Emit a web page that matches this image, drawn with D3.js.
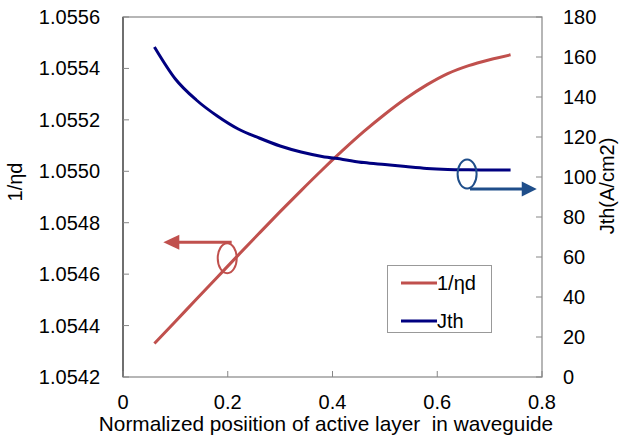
<!DOCTYPE html>
<html><head><meta charset="utf-8">
<script src="https://cdn.jsdelivr.net/npm/d3@7"></script>
<style>body{margin:0;background:#fff}svg{display:block}text{font-family:"Liberation Sans",Arial,sans-serif}</style>
</head><body>
<script>
const xValues = [0.06,0.10,0.14,0.18,0.22,0.26,0.30,0.34,0.38,0.42,0.46,0.50,0.54,0.58,0.62,0.66,0.70,0.74];
const invEta = [1.054330,1.054416,1.054502,1.054588,1.054674,1.054759,1.054843,1.054925,1.055005,1.055082,1.055155,1.055222,1.055283,1.055336,1.055380,1.055411,1.055434,1.055453];
const jth = [165,149,138.5,130.5,124,119.5,115.5,112.5,110.3,108.8,107.2,106.2,105.2,104.3,103.8,103.6,103.5,103.5];
const xTicks = [0,0.2,0.4,0.6,0.8];
const leftTicks = [1.0542,1.0544,1.0546,1.0548,1.0550,1.0552,1.0554,1.0556];
const rightTicks = [0,20,40,60,80,100,120,140,160,180];
const seriesNames = ["1/ηd","Jth"];
const colors = ["#C0504D","#000080"];

const W=621,H=447;
const L=123,R=542,T=17,B=377;
const svg=d3.select("body").append("svg").attr("width",W).attr("height",H);
const x=d3.scaleLinear().domain([0,0.8]).range([L,R]);
const yL=d3.scaleLinear().domain([1.0542,1.0556]).range([B,T]);
const yR=d3.scaleLinear().domain([0,180]).range([B,T]);
const fs=20;

// frame
svg.append("rect").attr("x",L).attr("y",T).attr("width",R-L).attr("height",B-T)
  .attr("fill","none").attr("stroke","#868686").attr("stroke-width",1.2);
svg.append("line").attr("x1",L).attr("x2",L).attr("y1",T).attr("y2",B).attr("stroke","#404040").attr("stroke-width",1.2);

// ticks
const tickC="#868686";
xTicks.forEach(v=>{
  svg.append("line").attr("x1",x(v)).attr("x2",x(v)).attr("y1",B).attr("y2",B-6).attr("stroke",tickC);
  svg.append("text").attr("x",x(v)).attr("y",409).attr("text-anchor","middle").attr("font-size",fs).text(d3.format("")(v));
});
leftTicks.forEach(v=>{
  svg.append("line").attr("x1",L).attr("x2",L+6).attr("y1",yL(v)).attr("y2",yL(v)).attr("stroke",tickC);
  svg.append("text").attr("x",100).attr("y",yL(v)).attr("dy","0.35em").attr("text-anchor","end").attr("font-size",fs).text(v.toFixed(4));
});
rightTicks.forEach(v=>{
  svg.append("line").attr("x1",R).attr("x2",R-6).attr("y1",yR(v)).attr("y2",yR(v)).attr("stroke",tickC);
  svg.append("text").attr("x",563).attr("y",yR(v)).attr("dy","0.35em").attr("text-anchor","start").attr("font-size",fs).text(v);
});

// axis titles
svg.append("text").attr("x",326).attr("y",431).attr("text-anchor","middle").attr("font-size",20.8)
  .style("white-space","pre").text("Normalized posiition of active layer  in waveguide");
svg.append("text").attr("transform","translate(22,182) rotate(-90)").attr("text-anchor","middle").attr("font-size",fs).text("1/ηd");
svg.append("text").attr("transform","translate(614,186) rotate(-90)").attr("text-anchor","middle").attr("font-size",fs).text("Jth(A/cm2)");

// lines
const lineL=d3.line().curve(d3.curveMonotoneX).x((d,i)=>x(xValues[i])).y(d=>yL(d));
const lineR=d3.line().curve(d3.curveMonotoneX).x((d,i)=>x(xValues[i])).y(d=>yR(d));
svg.append("path").attr("d",lineL(invEta)).attr("fill","none").attr("stroke",colors[0]).attr("stroke-width",3);
svg.append("path").attr("d",lineR(jth)).attr("fill","none").attr("stroke",colors[1]).attr("stroke-width",3);

// annotations (data coords)
const redAnno={cx:0.199, cy:1.054662, lineX1:0.2075, lineX2:0.077, lineY:1.054724};
const blueAnno={cx:0.657, cy:101.5, lineX1:0.6625, lineX2:0.79, lineY:94};
const redC="#C0504D", blueC="#1F4E8A";
svg.append("ellipse").attr("cx",x(redAnno.cx)).attr("cy",yL(redAnno.cy)).attr("rx",9.5).attr("ry",15)
  .attr("fill","none").attr("stroke",redC).attr("stroke-width",2);
svg.append("line").attr("x1",x(redAnno.lineX1)).attr("x2",x(redAnno.lineX2)+12).attr("y1",yL(redAnno.lineY)).attr("y2",yL(redAnno.lineY))
  .attr("stroke",redC).attr("stroke-width",3);
{const tx=x(redAnno.lineX2), ty=yL(redAnno.lineY);
 svg.append("path").attr("d",`M${tx},${ty}L${tx+16},${ty-7.5}L${tx+16},${ty+7.5}Z`).attr("fill",redC);}
svg.append("ellipse").attr("cx",x(blueAnno.cx)).attr("cy",yR(blueAnno.cy)).attr("rx",9.5).attr("ry",14.5)
  .attr("fill","none").attr("stroke",blueC).attr("stroke-width",2);
svg.append("line").attr("x1",x(blueAnno.lineX1)).attr("x2",x(blueAnno.lineX2)-12).attr("y1",yR(blueAnno.lineY)).attr("y2",yR(blueAnno.lineY))
  .attr("stroke",blueC).attr("stroke-width",3);
{const tx=x(blueAnno.lineX2), ty=yR(blueAnno.lineY);
 svg.append("path").attr("d",`M${tx},${ty}L${tx-15},${ty-7.5}L${tx-15},${ty+7.5}Z`).attr("fill",blueC);}

// legend
const lg=svg.append("g");
lg.append("rect").attr("x",387.5).attr("y",265.5).attr("width",104).attr("height",67).attr("fill","#fff").attr("stroke","#999");
seriesNames.forEach((n,i)=>{
  const yy=283+i*38;
  lg.append("line").attr("x1",401).attr("x2",437).attr("y1",yy).attr("y2",yy).attr("stroke",colors[i]).attr("stroke-width",3);
  lg.append("text").attr("x",437).attr("y",yy).attr("dy","0.35em").attr("font-size",fs).text(n);
});
</script>
</body></html>
